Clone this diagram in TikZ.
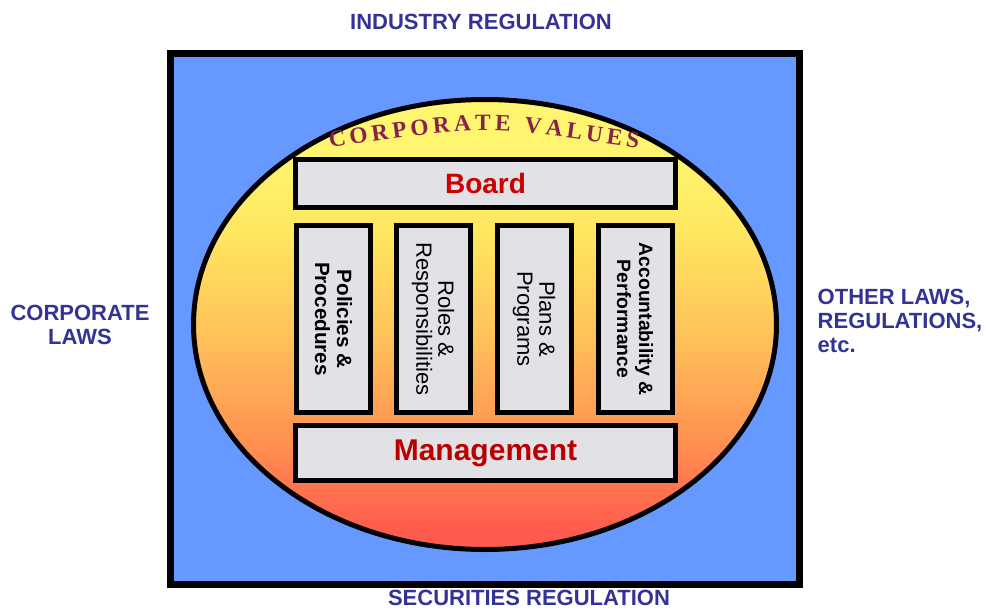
\documentclass[tikz,border=0pt]{standalone}
\usepackage{fontspec}
\setmainfont{Liberation Sans}
\newfontfamily\valfont{Liberation Serif}
\usepackage{tikz}
\usetikzlibrary{shapes.geometric}
\usetikzlibrary{decorations.text}
\definecolor{boxblue}{RGB}{102,153,255}
\definecolor{lawblue}{RGB}{51,51,150}
\definecolor{boardred}{RGB}{204,0,0}
\definecolor{valmaroon}{RGB}{135,35,75}
\definecolor{marble}{RGB}{226,226,230}
\definecolor{shred}{RGB}{255,90,78}
\definecolor{shorange}{RGB}{255,140,80}
\definecolor{shlight}{RGB}{255,195,90}
\definecolor{shyellow}{RGB}{255,230,95}
\definecolor{shtop}{RGB}{255,245,110}
\pgfdeclareverticalshading{valshade}{100bp}{color(0bp)=(shred); color(27bp)=(shred);
  color(36bp)=(shorange); color(49bp)=(shlight); color(60bp)=(shyellow); color(69bp)=(shtop);
  color(100bp)=(shtop)}

\begin{document}
\begin{tikzpicture}[x=0.75pt,y=-0.75pt,
    lawtext/.style={text=lawblue,font=\fontsize{16.5}{18}\selectfont\bfseries},
    marblebox/.style={draw=black,line width=3.75pt,fill=marble,inner sep=0pt},
    pillar/.style={marblebox,rotate=-90,minimum width=140.25pt,minimum height=55.5pt,
      align=center,font=\fontsize{16.5}{16.5}\selectfont}]
  \useasboundingbox (0,0) rectangle (986,610);

  \node[draw=black,line width=5.25pt,fill=boxblue,minimum width=471.75pt,
        minimum height=398.25pt,inner sep=0pt]                 (frame) at (485,319)   {};
  \node[ellipse,draw=black,line width=3.75pt,shading=valshade,minimum width=437.25pt,
        minimum height=337.5pt,inner sep=0pt]                  (vals)  at (485,324.5) {};

  \path[decorate,decoration={text along path,text align={fit to path},
        text={|\valfont\bfseries\fontsize{17.5}{17.5}\selectfont\color{valmaroon}|CORPORATE VALUES}}]
        (330,148) .. controls (484,125) .. (638,148);

  \node[marblebox,minimum width=285pt,minimum height=36pt,text=boardred,
        font=\fontsize{21}{21}\selectfont\bfseries]            (board) at (485.5,183.5) {Board};
  \node[pillar,font=\fontsize{15.5}{16.5}\selectfont\bfseries] (pol)   at (333.5,319) {Policies \&\\Procedures};
  \node[pillar]                                                (rol)   at (433,319)   {Roles \&\\Responsibilities};
  \node[pillar]                                                (pla)   at (534,319)   {Plans \&\\Programs};
  \node[pillar,font=\fontsize{14.5}{16.5}\selectfont\bfseries] (acc)   at (635,319)   {Accountability \&\\Performance};
  \node[marblebox,minimum width=285pt,minimum height=41.25pt,text=boardred!90!black,
        font=\fontsize{22.5}{22.5}\selectfont\bfseries]        (mgmt)  at (485.5,453) {Management};

  \node[lawtext]                       (ind) at (481,22)  {INDUSTRY REGULATION};
  \node[lawtext]                       (sec) at (529,598) {SECURITIES REGULATION};
  \node[lawtext,align=center]          (cor) at (80,325)  {CORPORATE\\LAWS};
  \node[lawtext,align=left,anchor=west](oth) at (813,321) {OTHER LAWS,\\REGULATIONS,\\etc.};
\end{tikzpicture}
\end{document}
